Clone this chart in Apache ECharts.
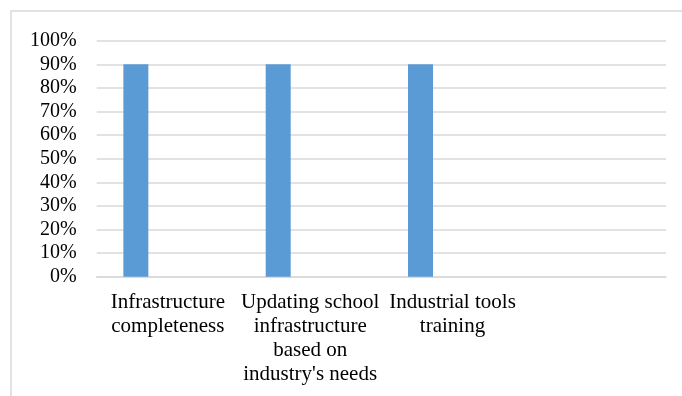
<!DOCTYPE html>
<html><head><meta charset="utf-8">
<script src="https://cdn.jsdelivr.net/npm/echarts@6/dist/echarts.min.js"></script>
<style>html,body{margin:0;padding:0;background:#fff}#c{width:682px;height:396px}</style>
</head><body><div id="c"></div>
<script>
const categories = ["Infrastructure\ncompleteness", "Updating school\ninfrastructure\nbased on\nindustry's needs", "Industrial tools\ntraining", ""];
const seriesValues = [90, 90, 90, null];
const emptySeries = [null, null, null, null];
const yTicks = [0,10,20,30,40,50,60,70,80,90,100];

const chart = echarts.init(document.getElementById('c'), null, {renderer:'canvas'});
const font = "'Liberation Serif','Times New Roman',serif";
chart.setOption({
  animation:false,
  backgroundColor:'#fff',
  graphic:[{type:'rect', shape:{x:11, y:11, width:700, height:420}, style:{fill:'none', stroke:'#D9D9D9', lineWidth:1.5}, silent:true}],
  grid:{left:96.7, right:16, top:40.7, bottom:119.3},
  xAxis:{type:'category', data:categories,
    axisLine:{show:true, lineStyle:{color:'#D9D9D9', width:1.5}},
    axisTick:{show:false},
    axisLabel:{interval:0, color:'#000', fontFamily:font, fontSize:21, lineHeight:24, margin:14}},
  yAxis:{type:'value', min:yTicks[0], max:yTicks[yTicks.length-1], interval:10,
    axisLine:{show:false}, axisTick:{show:false},
    splitLine:{lineStyle:{color:'#D9D9D9', width:1.5}},
    axisLabel:{formatter:'{value}%', color:'#000', fontFamily:font, fontSize:20, margin:20}},
  series:[
    {type:'bar', data:seriesValues, barWidth:25, barGap:'156%', itemStyle:{color:'#5B9BD5'}},
    {type:'bar', data:emptySeries, barWidth:25, itemStyle:{color:'#ED7D31'}}
  ]
});
</script></body></html>
